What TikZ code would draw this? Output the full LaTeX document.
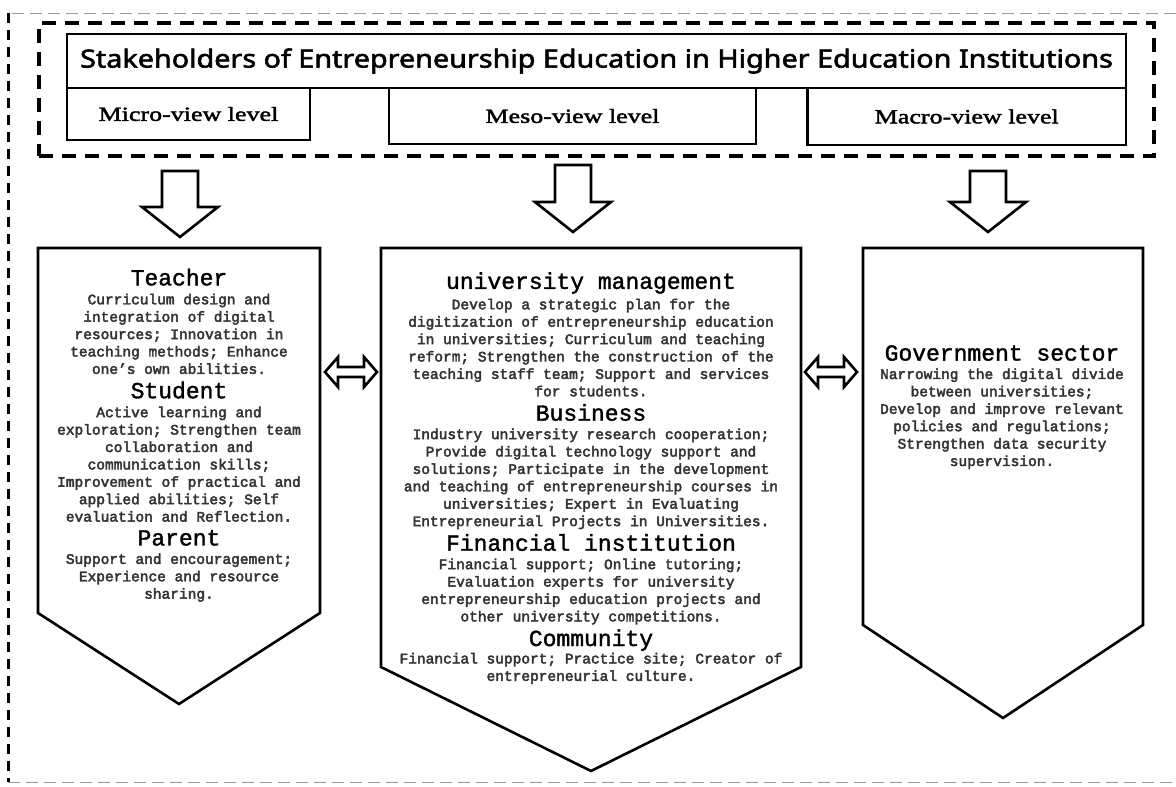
\documentclass[tikz,border=0pt]{standalone}
\usepackage{fontspec}
\setmainfont{Liberation Serif}
\newfontfamily\titlefont{Noto Sans}[FakeStretch=1.15,FakeBold=2.2]
\newfontfamily\levelfont{Liberation Serif}[FakeStretch=1.3,FakeBold=2]
\newfontfamily\bodyfont{Liberation Mono}[FakeBold=3]
\newfontfamily\headfont{Liberation Mono}[FakeBold=1.5]
\usetikzlibrary{positioning, fit}
\newcommand\stakehd[1]{{\headfont\fontsize{23}{17.4}\selectfont\color{black}#1}}
\tikzset{
  titlebox/.style = {rectangle, draw=black, line width=2.5pt, outer sep=0pt, inner sep=0pt, minimum width=1059pt, minimum height=54pt, font=\titlefont\fontsize{25}{28}\selectfont},
  levelbox/.style = {rectangle, draw=black, line width=2.5pt, outer sep=0pt, inner sep=0pt, font=\levelfont\fontsize{20}{24}\selectfont},
  groupbox/.style = {draw=black, line width=3.5pt, dash pattern=on 14pt off 9pt, inner xsep=28pt, inner ysep=11pt},
  txt/.style = {align=center, inner sep=0pt, text=black!80, font=\bodyfont\fontsize{14.5}{17.4}\selectfont},
  outline/.style = {draw=black, line width=2.6pt, line join=miter},
  blockarrow/.style = {draw=black, line width=2.6pt, fill=white, line join=miter},
  framefaint/.style = {draw=black!40, line width=0.8pt, dash pattern=on 12pt off 6pt},
  frameside/.style = {draw=black, line width=3pt, dash pattern=on 10pt off 7pt},
  downarrow/.pic = {
    \draw[blockarrow] (-18,0) -- (-18,#1-30) -- (-38,#1-30) -- (0,#1) -- (38,#1-30) -- (18,#1-30) -- (18,0) -- cycle;
  },
  twoway/.pic = {
    \draw[blockarrow] (-26,0) -- (-13,-15) -- (-13,-5) -- (13,-5) -- (13,-15) -- (26,0) -- (13,15) -- (13,5) -- (-13,5) -- (-13,15) -- cycle;
  }
}

\begin{document}
\begin{tikzpicture}[x=1pt, y=-1pt]
\useasboundingbox[fill=white] (0,0) rectangle (1176,787);

% outer frame (open on the right)
\draw[framefaint] (1176,13) -- (8,13);
\draw[framefaint] (8,782) -- (1176,782);
\draw[frameside] (8,13) -- (8,782);

% header row
\node[titlebox] (title) at (596.5,61) {Stakeholders of Entrepreneurship Education in Higher Education Institutions};

\node[levelbox, minimum width=243pt, minimum height=52pt, below right=0pt and 0pt of title.south west] (micro) {Micro-view level};
\node[levelbox, minimum width=367pt, minimum height=56pt, anchor=north] (meso) at (572.5,88) {Meso-view level};
\node[levelbox, minimum width=318.5pt, minimum height=57pt, below left=0pt and 0pt of title.south east] (macro) {Macro-view level};

\node[groupbox, fit=(title)(micro)(meso)(macro)] (group) {};

% arrows down
\pic at (180,171) {downarrow=66};
\pic at (573,165) {downarrow=67};
\pic at (988,171) {downarrow=61};

% pentagons
\draw[outline] (38,248) -- (320,248) -- (320,613) -- (179,704) -- (38,613) -- cycle;
\draw[outline] (381,248) -- (801,248) -- (801,667) -- (591,771) -- (381,667) -- cycle;
\draw[outline] (863,248) -- (1143,248) -- (1143,625) -- (1003,718) -- (863,625) -- cycle;

% two-way arrows
\pic at (351,372) {twoway};
\pic at (831,372) {twoway};

% micro level
\node[txt, anchor=north] (microtext) at (179,268.5) {\stakehd{Teacher}\\[1.5pt]
Curriculum design and\\
integration of digital\\
resources; Innovation in\\
teaching methods; Enhance\\
one’s own abilities.\\[7pt]
\stakehd{Student}\\[1.5pt]
Active learning and\\
exploration; Strengthen team\\
collaboration and\\
communication skills;\\
Improvement of practical and\\
applied abilities; Self\\
evaluation and Reflection.\\[6.5pt]
\stakehd{Parent}\\[1pt]
Support and encouragement;\\
Experience and resource\\
sharing.};

% meso level
\node[txt, anchor=north] (mesotext) at (591,272) {\stakehd{university management}\\[3pt]
Develop a strategic plan for the\\
digitization of entrepreneurship education\\
in universities; Curriculum and teaching\\
reform; Strengthen the construction of the\\
teaching staff team; Support and services\\
for students.\\[7pt]
\stakehd{Business}\\[1pt]
Industry university research cooperation;\\
Provide digital technology support and\\
solutions; Participate in the development\\
and teaching of entrepreneurship courses in\\
universities; Expert in Evaluating\\
Entrepreneurial Projects in Universities.\\[4pt]
\stakehd{Financial institution}\\[1pt]
Financial support; Online tutoring;\\
Evaluation experts for university\\
entrepreneurship education projects and\\
other university competitions.\\[4pt]
\stakehd{Community}\\
Financial support; Practice site; Creator of\\
entrepreneurial culture.};

% macro level
\node[txt, anchor=north] (macrotext) at (1002,345) {\stakehd{Government sector}\\[1pt]
Narrowing the digital divide\\
between universities;\\
Develop and improve relevant\\
policies and regulations;\\
Strengthen data security\\
supervision.};

\end{tikzpicture}
\end{document}
